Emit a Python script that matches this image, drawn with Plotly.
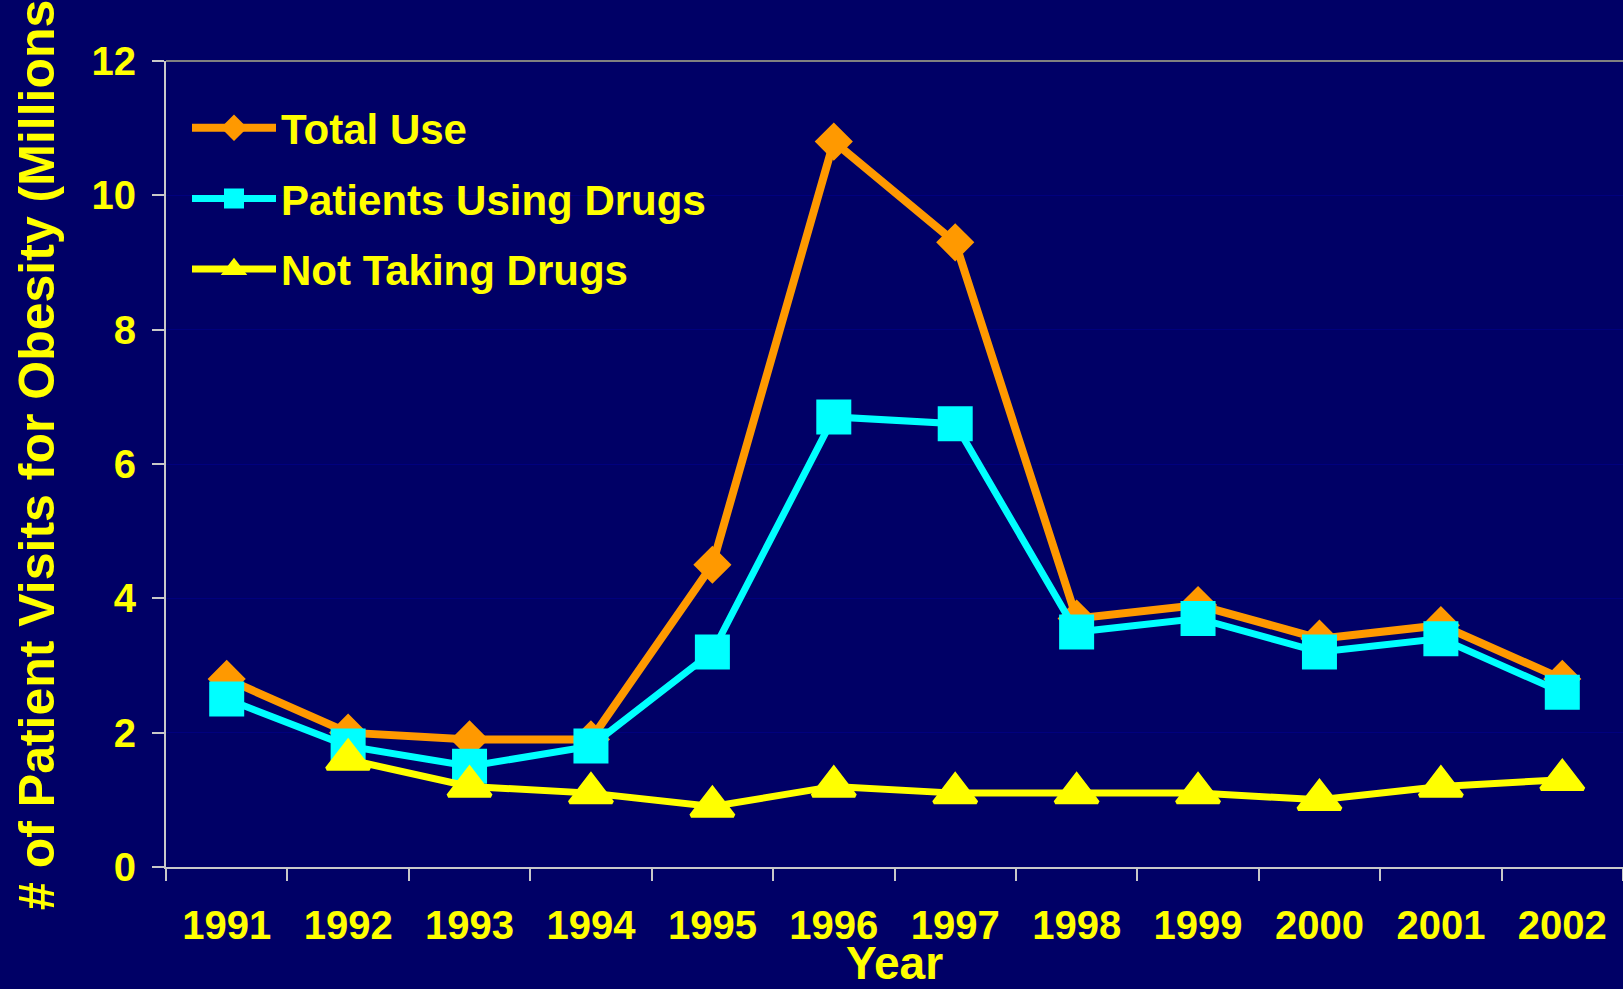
import plotly.graph_objects as go

years = ["1991", "1992", "1993", "1994", "1995", "1996", "1997", "1998", "1999", "2000", "2001", "2002"]
total_use = [2.8, 2.0, 1.9, 1.9, 4.5, 10.8, 9.3, 3.7, 3.9, 3.4, 3.6, 2.8]
patients_using_drugs = [2.5, 1.8, 1.5, 1.8, 3.2, 6.7, 6.6, 3.5, 3.7, 3.2, 3.4, 2.6]
not_taking_drugs = [None, 1.6, 1.2, 1.1, 0.9, 1.2, 1.1, 1.1, 1.1, 1.0, 1.2, 1.3]
y_ticks = [0, 2, 4, 6, 8, 10, 12]

BG = "#000066"
YELLOW = "#FFFF00"
ORANGE = "#FF9900"
CYAN = "#00FFFF"
FONT = "Liberation Sans, Arial, sans-serif"

fig = go.Figure()
fig.add_trace(go.Scatter(
    x=years, y=total_use, name="Total Use", mode="lines+markers", legendgroup="a",
    line=dict(color=ORANGE, width=8),
    marker=dict(symbol="diamond", size=25, color=ORANGE, line=dict(color=ORANGE, width=4)),
))
fig.add_trace(go.Scatter(
    x=years, y=patients_using_drugs, name="Patients Using Drugs", mode="lines+markers", legendgroup="b",
    line=dict(color=CYAN, width=7),
    marker=dict(symbol="square", size=31, color=CYAN, line=dict(color=CYAN, width=4)),
))
fig.add_trace(go.Scatter(
    x=years, y=not_taking_drugs, name="Not Taking Drugs", mode="lines+markers", legendgroup="c",
    line=dict(color=YELLOW, width=7),
    marker=dict(symbol="triangle-up", size=37, color=YELLOW, line=dict(color=YELLOW, width=4)),
))

W, H = 1623, 989
L, T, B = 166, 61, 122
pw = W - L
ph = H - T - B

fig.update_layout(
    width=W, height=H,
    margin=dict(l=L, r=0, t=T, b=B, pad=0),
    paper_bgcolor=BG, plot_bgcolor=BG,
    font=dict(family=FONT, color=YELLOW, size=40, weight="bold"),
    showlegend=True,
    legend=dict(
        x=(187 - L) / pw, y=1 - (94 - T) / ph, xanchor="left", yanchor="top",
        bgcolor="rgba(0,0,0,0)", font=dict(size=42, color=YELLOW, family=FONT, weight="bold"),
        itemwidth=84, tracegroupgap=13,
    ),
    xaxis=dict(
        type="category", range=[-0.5, len(years) - 0.5], tickson="boundaries",
        ticks="outside", ticklen=12, tickwidth=2,
        tickcolor="#C8C8C8", showline=True, linecolor="#C8C8C8", linewidth=2,
        showgrid=False, zeroline=False,
        tickfont=dict(size=40, color=YELLOW, family=FONT, weight="bold"),
        ticklabelstandoff=22,
        title=dict(text="Year", font=dict(size=46, color=YELLOW, family=FONT, weight="bold"), standoff=0),
    ),
    yaxis=dict(
        range=[0, 12], tickvals=y_ticks, ticks="outside", ticklen=12, tickwidth=2,
        tickcolor="#C8C8C8", showline=True, linecolor="#C8C8C8", linewidth=2,
        showgrid=True, gridcolor="#00007E", gridwidth=1, zeroline=False,
        tickfont=dict(size=40, color=YELLOW, family=FONT, weight="bold"),
        ticklabelstandoff=8,
    ),
    shapes=[dict(type="line", xref="paper", yref="paper", x0=0, x1=1, y0=1, y1=1,
                 line=dict(color="#808080", width=2))],
    annotations=[dict(
        text="# of Patient Visits for Obesity (Millions", textangle=-90,
        xref="paper", yref="paper", x=(37 - L) / pw, y=1 - (455 - T) / ph,
        xanchor="center", yanchor="middle", showarrow=False,
        font=dict(size=50, color=YELLOW, family=FONT, weight="bold"),
    )],
)

fig.write_html("out.html", config={"displayModeBar": False},
               post_script="document.body.style.margin='0';document.body.style.overflow='hidden';")
